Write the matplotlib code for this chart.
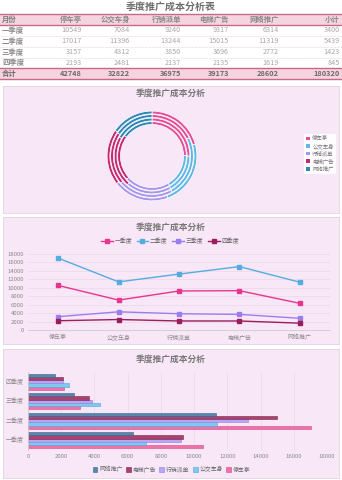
import matplotlib
matplotlib.use('Agg')
import matplotlib.pyplot as plt
from matplotlib.patches import Rectangle
from matplotlib.lines import Line2D
import numpy as np

plt.rcParams['font.family'] = ['Noto Sans CJK SC', 'DejaVu Sans']

# Data
quarters = ['一季度', '二季度', '三季度', '四季度']
channels = ['停车亭', '公交车身', '行销派单', '电梯广告', '网络推广']
q1 = [10549, 7084, 9240, 9317, 6314]
q2 = [17017, 11396, 13244, 15015, 11319]
q3 = [3157, 4312, 3850, 3696, 2772]
q4 = [2193, 2481, 2137, 2135, 1619]
subtotal = [3400, 5439, 1423, 845]
totals = [42748, 32822, 36975, 39173, 28602, 180320]

W, H = 342, 480
fig = plt.figure(figsize=(W / 100, H / 100), dpi=100)
fig.patch.set_facecolor('white')

def px_axes(x, y, w, h, **kw):
    return fig.add_axes([x / W, 1 - (y + h) / H, w / W, h / H], **kw)

panel_bg = '#f8e7f7'
grey = '#7a7a7a'
tick_grey = '#8a8a8a'
grid_c = '#ead6e6'

# colours
c_chan = ['#e64d98', '#62b7e4', '#a895ec', '#c42a72', '#2f87b5']
c_line = ['#e8358f', '#55ace0', '#9a7ef0', '#9b1d5c']
c_bar = ['#f070aa', '#80c9ee', '#b6a6f4', '#a8426e', '#5a86ad']
c_bar_edge = ['#d84a8c', '#4fa5d4', '#8f7ee0', '#7e2450', '#3a6288']

# ---------------- table ----------------
ax_t = px_axes(0, 0, W, 84)
ax_t.set_xlim(0, W)
ax_t.set_ylim(84, 0)
ax_t.axis('off')

ax_t.text(171, 7, '季度推广成本分析表', ha='center', va='center',
          fontsize=7.2, fontweight='bold', color='#6e6e6e')

pink_row = '#f5d3df'
line_c = '#c9688a'
ax_t.add_patch(Rectangle((0, 14), W, 10.5, facecolor=pink_row, edgecolor='none'))
ax_t.add_patch(Rectangle((0, 67.5), W, 11, facecolor=pink_row, edgecolor='none'))
for yy in [14, 24.5, 67.5, 78.5]:
    ax_t.plot([0, W], [yy, yy], color=line_c, lw=1.0)
for yy in [35.5, 46.5, 57.5]:
    ax_t.plot([0, W], [yy, yy], color='#ecc6d4', lw=0.5, ls=(0, (1, 1)))

col_x = [82, 130, 181, 229, 279, 340]
headers = channels + ['小计']
ax_t.text(2, 19.2, '月份', ha='left', va='center', fontsize=5.3,
          fontweight='bold', color='#7a7a7a')
for x, hd in zip(col_x, headers):
    ax_t.text(x, 19.2, hd, ha='right', va='center', fontsize=5.3,
              fontweight='bold', color='#8a8a8a')

rows = [q1, q2, q3, q4]
row_y = [30, 41, 52, 62.7]
for yy, name, vals, st in zip(row_y, quarters, rows, subtotal):
    ax_t.text(2, yy, name, ha='left', va='center', fontsize=5.3,
              fontweight='bold', color='#8a8a8a')
    for x, v in zip(col_x, vals + [st]):
        ax_t.text(x, yy, str(v), ha='right', va='center', fontsize=5.2,
                  color='#a8a8a8')

ax_t.text(2, 73, '合计', ha='left', va='center', fontsize=5.3,
          fontweight='bold', color='#6a6a6a')
for x, v in zip(col_x, totals):
    ax_t.text(x, 73, str(v), ha='right', va='center', fontsize=5.3,
              fontweight='bold', color='#6a6a6a')

# ---------------- panels ----------------
panels = [(86, 127), (217, 127), (349, 129)]
for py, ph in panels:
    bg = px_axes(3, py, 336, ph)
    bg.set_facecolor(panel_bg)
    bg.set_xticks([])
    bg.set_yticks([])
    for s in bg.spines.values():
        s.set_color('#e2d2e0')
        s.set_linewidth(0.6)
    bg.set_zorder(0)

def panel_title(y):
    fig.text(171 / W, 1 - y / H, '季度推广成本分析', ha='center', va='center',
             fontsize=6.3, fontweight='bold', color='#777777')

# ---------------- donut ----------------
panel_title(93.5)
ax_d = px_axes(97, 101, 110, 110)
ax_d.set_xlim(-1.1, 1.1)
ax_d.set_ylim(-1.1, 1.1)
ax_d.set_aspect('equal')
ax_d.axis('off')
ring_w = 0.062
for i, vals in enumerate(rows):
    r = 0.78 + i * 0.08
    ax_d.pie(vals, radius=r, colors=c_chan, startangle=90, counterclock=False,
             wedgeprops=dict(width=ring_w, edgecolor='white', linewidth=0.5))

handles = [Rectangle((0, 0), 1, 1, facecolor=c) for c in c_chan]
ax_d_leg = px_axes(300, 128, 40, 52)
ax_d_leg.axis('off')
ax_d_leg.legend(handles, channels, loc='center', fontsize=3.9, frameon=True,
                facecolor='white', edgecolor='none', framealpha=0.9,
                handlelength=0.7, handleheight=0.7, handletextpad=0.4,
                labelspacing=0.35, borderpad=0.4, labelcolor='#777777')

# ---------------- line chart ----------------
panel_title(227)
ax_l = px_axes(28, 254, 302, 76)
ax_l.set_facecolor('none')
xs = np.arange(len(channels))
for vals, name, c in zip(rows, quarters, c_line):
    ax_l.plot(xs, vals, color=c, lw=1.0, marker='s', markersize=2.2, label=name)
ax_l.set_xlim(-0.5, len(channels) - 0.5)
ax_l.set_ylim(0, 18000)
ax_l.set_yticks(np.arange(0, 18001, 2000))
ax_l.set_xticks(xs)
ax_l.set_xticklabels(channels)
ax_l.tick_params(labelsize=4.3, colors=tick_grey, length=0, pad=3)
ax_l.grid(axis='y', color=grid_c, lw=0.5)
ax_l.set_axisbelow(True)
for s in ['top', 'right', 'left']:
    ax_l.spines[s].set_visible(False)
ax_l.spines['bottom'].set_color('#cccccc')
ax_l.spines['bottom'].set_linewidth(0.6)
ax_l.legend(loc='center', bbox_to_anchor=(0.47, 1.17), ncol=4, fontsize=4.2,
            frameon=False, handlelength=2.0, columnspacing=0.8,
            handletextpad=0.3, labelcolor='#666666')

# ---------------- bar chart ----------------
panel_title(359)
ax_b = px_axes(28, 372, 299, 78)
ax_b.set_facecolor('none')
ys = np.arange(len(quarters))
bh = 0.165
# 停车亭 at the bottom of each group, 网络推广 on top
for j in range(len(channels)):
    vals = [r[j] for r in rows]
    off = (j - 2) * bh
    ax_b.barh(ys + off, vals, height=bh, color=c_bar[j],
              edgecolor=c_bar_edge[j], linewidth=0.4, label=channels[j])
ax_b.set_ylim(-0.5, len(quarters) - 0.5)
ax_b.set_xlim(0, 18000)
ax_b.set_xticks(np.arange(0, 18001, 2000))
ax_b.set_yticks(ys)
ax_b.set_yticklabels(quarters)
ax_b.tick_params(labelsize=4.3, colors=tick_grey, length=0, pad=3)
ax_b.grid(axis='x', color=grid_c, lw=0.5)
ax_b.set_axisbelow(True)
for s in ['top', 'right', 'bottom']:
    ax_b.spines[s].set_visible(False)
ax_b.spines['left'].set_color('#cccccc')
ax_b.spines['left'].set_linewidth(0.6)
h, l = ax_b.get_legend_handles_labels()
ax_b.legend(h[::-1], l[::-1], loc='center', bbox_to_anchor=(0.48, -0.25),
            ncol=5, fontsize=4.2, frameon=False, handlelength=0.8,
            handleheight=0.8, columnspacing=0.6, handletextpad=0.3,
            labelcolor='#666666')

fig.savefig('out.png', dpi=100, facecolor='white')
